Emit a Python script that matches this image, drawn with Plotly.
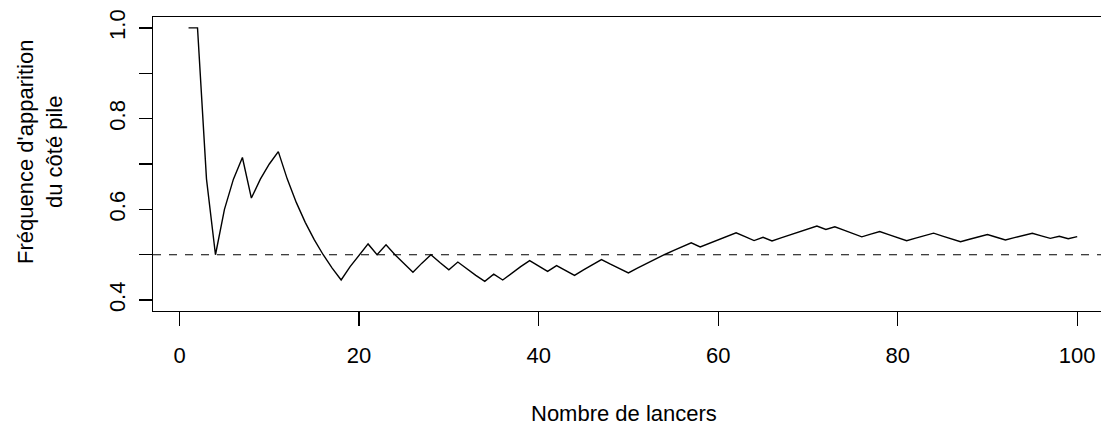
import plotly.graph_objects as go

# Number of tosses (x) and running frequency of "pile" (y)
lancers = list(range(1, 101))
frequence = [
    1.0, 1.0, 0.6667, 0.5, 0.6, 0.6667, 0.7143, 0.625, 0.6667, 0.7,
    0.7273, 0.6667, 0.6154, 0.5714, 0.5333, 0.5, 0.4706, 0.4444, 0.4737, 0.5,
    0.5238, 0.5, 0.5217, 0.5, 0.48, 0.4615, 0.4815, 0.5, 0.4828, 0.4667,
    0.4839, 0.4688, 0.4545, 0.4412, 0.4571, 0.4444, 0.4595, 0.4737, 0.4872, 0.475,
    0.4634, 0.4762, 0.4651, 0.4545, 0.4667, 0.4783, 0.4894, 0.4792, 0.4694, 0.46,
    0.4706, 0.4808, 0.4906, 0.5, 0.5091, 0.5179, 0.5263, 0.5172, 0.5254, 0.5333,
    0.541, 0.5484, 0.5397, 0.5313, 0.5385, 0.5303, 0.5373, 0.5441, 0.5507, 0.5571,
    0.5634, 0.5556, 0.5616, 0.5541, 0.5467, 0.5395, 0.5455, 0.5513, 0.5443, 0.5375,
    0.5309, 0.5366, 0.5422, 0.5476, 0.5412, 0.5349, 0.5287, 0.5341, 0.5393, 0.5444,
    0.5385, 0.5326, 0.5376, 0.5426, 0.5474, 0.5417, 0.5361, 0.5408, 0.5354, 0.54,
]
reference = 0.5

x_ticks = [0, 20, 40, 60, 80, 100]
y_ticks = [0.4, 0.5, 0.6, 0.7, 0.8, 0.9, 1.0]
y_ticktext = ["0.4", "", "0.6", "", "0.8", "", "1.0"]

x_title = "Nombre de lancers"
y_title = "Fréquence d'apparition<br>du côté pile"

FONT = "Liberation Sans, Arial, Helvetica, sans-serif"

fig = go.Figure()
fig.add_trace(go.Scatter(
    x=lancers, y=frequence, mode="lines",
    line=dict(color="black", width=1.4),
    showlegend=False, hoverinfo="skip",
))
fig.add_hline(y=reference, line=dict(color="black", width=1.2, dash="8px,8px"))

fig.update_layout(
    width=1101, height=425,
    margin=dict(l=153, r=0, t=17, b=114, pad=0),
    paper_bgcolor="white", plot_bgcolor="white",
    font=dict(family=FONT, size=22, color="black"),
    xaxis=dict(
        range=[-2.96, 102.65], tickvals=x_ticks,
        showgrid=False, zeroline=False,
        showline=True, mirror=True, linecolor="black", linewidth=1.3,
        ticks="outside", ticklen=14, tickwidth=1.3, tickcolor="black",
        ticklabelstandoff=10,
        tickfont=dict(family=FONT, size=22, color="black"),
    ),
    yaxis=dict(
        range=[0.376, 1.024], tickvals=y_ticks, ticktext=y_ticktext,
        showgrid=False, zeroline=False,
        showline=True, linecolor="black", linewidth=1.3,
        ticks="outside", ticklen=13, tickwidth=1.3, tickcolor="black",
        tickangle=-90, ticklabelstandoff=5,
        tickfont=dict(family=FONT, size=22, color="black"),
    ),
    annotations=[
        dict(text=x_title, xref="paper", yref="paper", x=0.4968, y=-0.350,
             xanchor="center", yanchor="middle", showarrow=False,
             font=dict(family=FONT, size=22, color="black")),
        dict(text=y_title, xref="paper", yref="paper", x=-0.1192, y=0.541,
             xanchor="center", yanchor="middle", showarrow=False, textangle=-90,
             font=dict(family=FONT, size=22, color="black")),
    ],
)

fig.write_html(
    "out.html",
    config={"displayModeBar": False, "staticPlot": True},
    post_script="document.body.style.margin='0';document.body.style.overflow='hidden';",
)
